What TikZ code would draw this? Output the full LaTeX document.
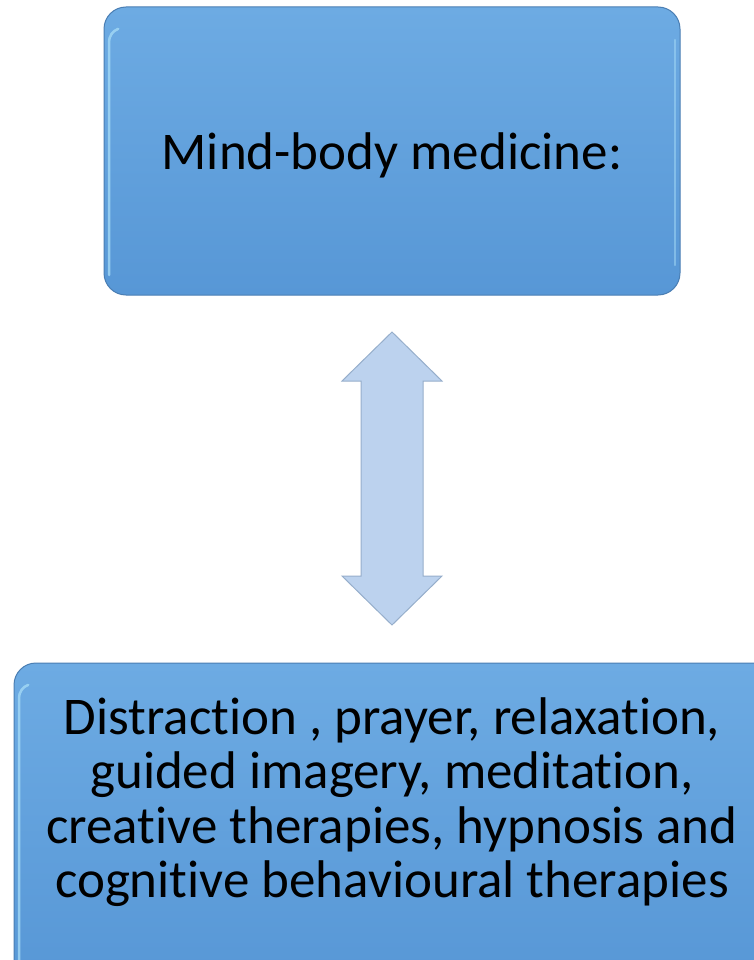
\documentclass[tikz,border=0pt]{standalone}
\usepackage{fontspec}
\setmainfont[Ligatures={NoCommon}]{Carlito}
\definecolor{boxtop}{HTML}{6DABE3}
\definecolor{boxbot}{HTML}{5797D6}
\definecolor{boxedge}{HTML}{4A7EB3}
\definecolor{shine}{HTML}{A8DDF7}
\definecolor{arrowfill}{HTML}{BCD2EE}
\definecolor{arrowedge}{HTML}{96AECB}
\tikzset{
  panel/.style={draw=boxedge, line width=1pt, rounded corners=22pt,
    top color=boxtop, bottom color=boxbot, inner sep=0pt},
  label/.style={font=\fontsize{53}{54.5}\selectfont, align=center, text=black},
  gloss/.style={draw=shine, line width=2.5pt, opacity=0.75, line cap=round},
}
\begin{document}
\begin{tikzpicture}[x=1pt,y=-1pt]
  \useasboundingbox (0,0) rectangle (753,960);
  % upper box
  \node[panel, minimum width=576pt, minimum height=288pt] (top) at (392,151) {};
  \draw[gloss] (109,275) -- (109,42) arc (180:250:14);
  \draw[gloss, opacity=0.5] (675,40) -- (675,265);
  \node[label] (toptext) at (392,155) {Mind-body medicine:};
  % lower box
  \node[panel, minimum width=760pt, minimum height=320pt] (bottom) at (394,823) {};
  \draw[gloss] (19,960) -- (19,698) arc (180:250:14);
  \node[label] (bottext) at (392,802)
    {Distraction , prayer, relaxation,\\guided imagery, meditation,\\creative therapies, hypnosis and\\cognitive behavioural therapies};
  % double-headed arrow between the boxes
  \coordinate (a1) at (392,332);
  \coordinate (a2) at (392,625);
  \draw[draw=arrowedge, fill=arrowfill, line width=1pt, line join=miter]
    (a1) -- (442,381) -- (423,381) -- (423,576) -- (442,576) -- (a2)
    -- (342,576) -- (361,576) -- (361,381) -- (342,381) -- cycle;
\end{tikzpicture}
\end{document}
